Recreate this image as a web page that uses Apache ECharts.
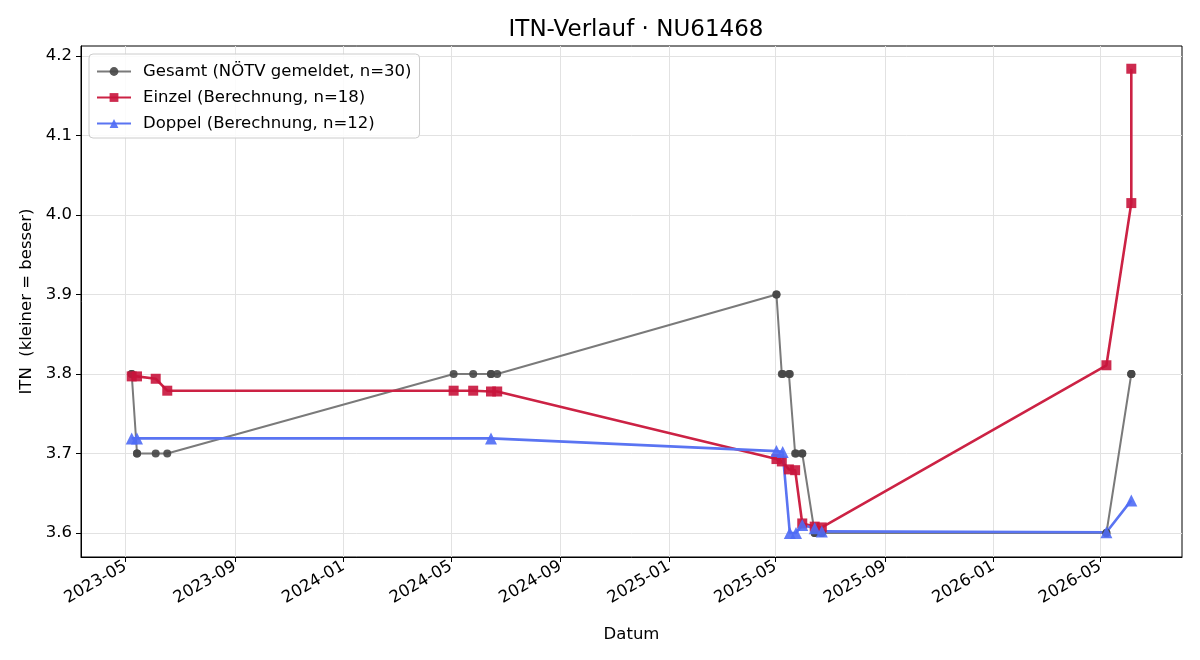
<!DOCTYPE html>
<html><head><meta charset="utf-8">
<script src="https://cdn.jsdelivr.net/npm/echarts@6/dist/echarts.min.js"></script>
</head><body style="margin:0;background:#fff">
<div id="c" style="width:1200px;height:660px"></div>
<script>
const xTicks = ['2023-05-01','2023-09-01','2024-01-01','2024-05-01','2024-09-01','2025-01-01','2025-05-01','2025-09-01','2026-01-01','2026-05-01'];
const yTicks = [3.6, 3.7, 3.8, 3.9, 4.0, 4.1, 4.2];

const gesamtDates = ['2023-05-08','2023-05-08','2023-05-14','2023-05-14','2023-06-04','2023-06-17',
  '2024-05-04','2024-05-26','2024-06-15','2024-06-15','2024-06-22',
  '2025-05-02','2025-05-02','2025-05-08','2025-05-09','2025-05-16','2025-05-17','2025-05-23','2025-05-24','2025-05-31','2025-05-31','2025-06-14','2025-06-14','2025-06-22','2025-06-22',
  '2026-05-08','2026-05-08','2026-06-05','2026-06-05','2026-06-05'];
const gesamtValues = [3.8,3.8,3.7,3.7,3.7,3.7,
  3.8,3.8,3.8,3.8,3.8,
  3.9,3.9,3.8,3.8,3.8,3.8,3.7,3.7,3.7,3.7,3.6,3.6,3.6,3.6,
  3.6,3.6,3.8,3.8,3.8];

const einzelDates = ['2023-05-08','2023-05-14','2023-06-04','2023-06-17',
  '2024-05-04','2024-05-26','2024-06-15','2024-06-22',
  '2025-05-02','2025-05-08','2025-05-16','2025-05-23','2025-05-31','2025-06-14','2025-06-22',
  '2026-05-08','2026-06-05','2026-06-05'];
const einzelValues = [3.797,3.797,3.794,3.779,
  3.779,3.779,3.778,3.778,
  3.693,3.690,3.680,3.679,3.612,3.608,3.607,
  3.811,4.015,4.184];

const doppelDates = ['2023-05-08','2023-05-14','2024-06-15',
  '2025-05-02','2025-05-09','2025-05-17','2025-05-24','2025-05-31','2025-06-14','2025-06-22',
  '2026-05-08','2026-06-05'];
const doppelValues = [3.719,3.719,3.719,
  3.703,3.702,3.600,3.600,3.610,3.606,3.602,
  3.601,3.641];

const seriesNames = ['Gesamt (NÖTV gemeldet, n=30)','Einzel (Berechnung, n=18)','Doppel (Berechnung, n=12)'];
const xMin = '2023-03-12', xMax = '2026-08-01';

function ts(s) { const p = s.split('-').map(Number); return Date.UTC(p[0], p[1] - 1, p[2]); }
function zip(d, v) { return d.map((x, i) => [ts(x), v[i]]); }
function fmtMonth(v) { const d = new Date(v); return d.getUTCFullYear() + '-' + String(d.getUTCMonth() + 1).padStart(2, '0'); }
const FONT = 'DejaVu Sans';
const FS = 16.5;
const xTickVals = xTicks.map(ts);
const chart = echarts.init(document.getElementById('c'));
chart.setOption({
  animation: false,
  backgroundColor: '#fff',
  title: { text: 'ITN-Verlauf · NU61468', left: 631, textAlign: 'center', top: 14,
    textStyle: { fontFamily: FONT, fontSize: 23, fontWeight: 'normal', color: '#000' } },
  grid: { left: 81, right: 18, top: 46, bottom: 103, show: true, borderColor: '#000', borderWidth: 1, backgroundColor: 'transparent' },
  legend: {
    orient: 'vertical', left: 89, top: 54, padding: [9, 8, 6, 7], itemGap: 9,
    itemWidth: 34, itemHeight: 11,
    borderColor: '#cccccc', borderWidth: 1, borderRadius: 4, backgroundColor: 'rgba(255,255,255,0.85)',
    textStyle: { fontFamily: FONT, fontSize: FS, color: '#000', padding: [0, 0, 0, 7] },
    data: seriesNames
  },
  xAxis: {
    type: 'value', min: ts(xMin), max: ts(xMax),
    name: 'Datum', nameLocation: 'middle', nameGap: 69,
    nameTextStyle: { fontFamily: FONT, fontSize: FS, color: '#000' },
    axisLine: { show: true, onZero: false, lineStyle: { color: '#000', width: 1 } },
    axisTick: { show: true, length: 5, lineStyle: { color: '#000' }, customValues: xTickVals },
    axisLabel: { customValues: xTickVals, rotate: 30, fontFamily: FONT, fontSize: FS, color: '#000', margin: 8,
      formatter: v => fmtMonth(v) },
    splitLine: { show: true, lineStyle: { color: '#e2e2e2', width: 1 } }
  },
  yAxis: {
    type: 'value', min: 3.5698, max: 4.2126,
    name: 'ITN  (kleiner = besser)', nameLocation: 'middle', nameGap: 46,
    nameTextStyle: { fontFamily: FONT, fontSize: FS, color: '#000' },
    axisLine: { show: true, onZero: false, lineStyle: { color: '#000', width: 1 } },
    axisTick: { show: true, length: 5, lineStyle: { color: '#000' }, customValues: yTicks },
    axisLabel: { customValues: yTicks, fontFamily: FONT, fontSize: FS, color: '#000', margin: 9,
      formatter: v => v.toFixed(1) },
    splitLine: { show: true, lineStyle: { color: '#e2e2e2', width: 1 } }
  },
  series: [
    { name: seriesNames[0], type: 'line', data: zip(gesamtDates, gesamtValues),
      symbol: 'circle', symbolSize: 8, showAllSymbol: true,
      lineStyle: { color: '#7a7a7a', width: 2 },
      itemStyle: { color: '#474747', opacity: 0.9 } },
    { name: seriesNames[1], type: 'line', data: zip(einzelDates, einzelValues),
      symbol: 'rect', symbolSize: 10, showAllSymbol: true,
      lineStyle: { color: '#cc2244', width: 2.6 },
      itemStyle: { color: '#c8143c', opacity: 0.9 } },
    { name: seriesNames[2], type: 'line', data: zip(doppelDates, doppelValues),
      symbol: 'triangle', symbolSize: 12, showAllSymbol: true,
      lineStyle: { color: '#5a74f2', width: 2.6 },
      itemStyle: { color: '#4f6cf5', opacity: 0.9 } }
  ]
});
</script>
</body></html>
